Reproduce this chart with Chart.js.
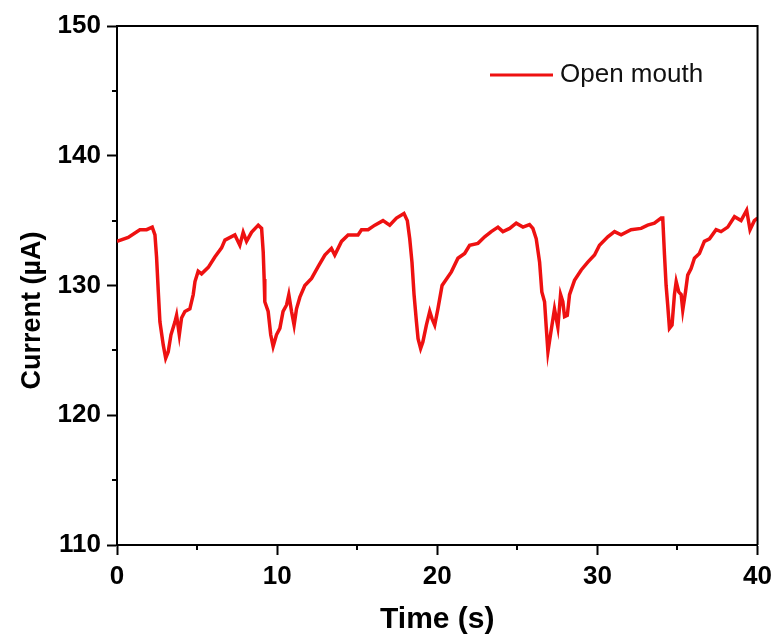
<!DOCTYPE html>
<html>
<head>
<meta charset="utf-8">
<script src="https://cdn.jsdelivr.net/npm/chart.js@4/dist/chart.umd.min.js"></script>
<style>
  html, body { margin: 0; padding: 0; background: #fff; }
  #wrap { width: 778px; height: 641px; }
</style>
</head>
<body>
<div id="wrap"><canvas id="c" width="778" height="641"></canvas></div>
<script>
const seriesLabel = 'Open mouth';
const timeS = [0.0,0.7,1.43,1.85,2.2,2.37,2.47,2.58,2.68,2.89,3.04,3.2,3.37,3.62,3.72,3.89,4.03,4.24,4.55,4.76,4.87,5.07,5.28,5.7,6.11,6.53,6.74,7.36,7.67,7.88,8.09,8.4,8.82,9.03,9.13,9.19,9.23,9.44,9.6,9.75,9.96,10.17,10.37,10.59,10.73,10.9,11.06,11.21,11.42,11.73,12.15,12.56,12.98,13.39,13.6,14.02,14.43,15.05,15.27,15.68,16.1,16.61,17.03,17.45,17.92,18.13,18.28,18.42,18.55,18.7,18.8,18.96,19.1,19.32,19.53,19.67,19.84,20.04,20.3,20.88,21.29,21.71,22.02,22.54,22.96,23.37,23.79,24.1,24.52,24.93,25.35,25.76,25.97,26.18,26.39,26.53,26.7,26.81,26.91,27.07,27.32,27.53,27.7,27.84,27.95,28.12,28.26,28.57,28.99,29.4,29.82,30.13,30.65,31.07,31.48,32.1,32.73,33.14,33.56,33.98,34.08,34.19,34.29,34.39,34.5,34.66,34.81,34.92,35.08,35.23,35.33,35.5,35.64,35.85,36.06,36.37,36.68,37.0,37.41,37.72,38.14,38.56,38.97,39.32,39.53,39.8,40.0];
const currentUA = [133.4,133.7,134.3,134.3,134.5,133.9,132.2,129.5,127.2,125.4,124.4,124.9,126.2,127.2,127.7,126.2,127.5,128.0,128.2,129.3,130.3,131.1,130.9,131.4,132.2,132.9,133.5,133.9,133.1,134.1,133.4,134.1,134.65,134.4,132.6,130.5,128.75,128.0,126.2,125.3,126.2,126.7,128.0,128.5,129.3,128.0,126.95,128.2,129.1,130.0,130.55,131.45,132.35,132.86,132.35,133.4,133.9,133.9,134.3,134.3,134.65,135.0,134.65,135.2,135.55,135.0,133.6,131.8,129.3,127.2,125.9,125.15,125.65,126.95,128.0,127.45,126.95,128.2,130.0,131.05,132.1,132.47,133.1,133.25,133.75,134.15,134.5,134.15,134.4,134.8,134.5,134.7,134.4,133.6,131.8,129.5,128.75,126.7,124.9,126.2,128.2,126.8,129.3,128.75,127.6,127.7,129.3,130.4,131.2,131.8,132.35,133.1,133.75,134.15,133.9,134.3,134.4,134.65,134.8,135.2,135.2,132.35,130.0,128.5,126.7,126.95,129.3,130.3,129.5,129.3,128.1,129.5,130.8,131.3,132.1,132.47,133.4,133.6,134.3,134.15,134.5,135.3,135.0,135.8,134.3,135.0,135.2];
const xTicks = [0, 10, 20, 30, 40];
const yTicks = [110, 120, 130, 140, 150];
const xMinorTicks = [5, 15, 25, 35];
const yMinorTicks = [115, 125, 135, 145];
const xTitle = 'Time (s)';
const yTitle = 'Current (µA)';

const lineColor = '#ee1111';
const FONT = "'Liberation Sans', Arial, sans-serif";

const points = timeS.map((t, i) => ({ x: t, y: currentUA[i] }));

const framePlugin = {
  id: 'frame',
  afterDraw(chart) {
    const { ctx, chartArea: a, scales } = chart;
    ctx.save();
    ctx.strokeStyle = '#000';
    ctx.lineWidth = 2;
    ctx.beginPath();
    ctx.moveTo(a.left, a.top);
    ctx.lineTo(a.right, a.top);
    ctx.lineTo(a.right, a.bottom);
    ctx.stroke();
    // minor ticks
    ctx.beginPath();
    xMinorTicks.forEach(v => {
      const px = Math.round(scales.x.getPixelForValue(v));
      ctx.moveTo(px, a.bottom);
      ctx.lineTo(px, a.bottom + 5);
    });
    yMinorTicks.forEach(v => {
      const py = Math.round(scales.y.getPixelForValue(v));
      ctx.moveTo(a.left - 5, py);
      ctx.lineTo(a.left, py);
    });
    ctx.stroke();
    // y axis title (offset below centre as in the reference)
    ctx.save();
    ctx.translate(33, a.top + (a.bottom - a.top) * 0.548);
    ctx.rotate(-Math.PI / 2);
    ctx.fillStyle = '#000';
    ctx.font = 'bold 27px ' + FONT;
    ctx.textAlign = 'center';
    ctx.textBaseline = 'middle';
    ctx.fillText(yTitle, 0, 0);
    ctx.restore();
    // legend
    const ds = chart.data.datasets[0];
    const ly = a.top + 49;
    ctx.strokeStyle = ds.borderColor;
    ctx.lineWidth = 3;
    ctx.beginPath();
    ctx.moveTo(a.left + 373, ly);
    ctx.lineTo(a.left + 436, ly);
    ctx.stroke();
    ctx.fillStyle = '#111';
    ctx.font = '26px ' + FONT;
    ctx.textBaseline = 'middle';
    ctx.textAlign = 'left';
    ctx.fillText(ds.label, a.left + 443, ly);
    ctx.restore();
  }
};

new Chart(document.getElementById('c'), {
  type: 'line',
  data: {
    datasets: [{
      label: seriesLabel,
      data: points,
      borderColor: lineColor,
      backgroundColor: lineColor,
      borderWidth: 3.5,
      pointRadius: 0,
      tension: 0,
      fill: false
    }]
  },
  options: {
    responsive: false,
    animation: false,
    devicePixelRatio: 1,
    layout: { padding: { left: 0, top: 26, right: 20, bottom: 0 } },
    plugins: {
      legend: { display: false },
      tooltip: { enabled: false }
    },
    scales: {
      x: {
        type: 'linear',
        min: 0, max: 40,
        afterBuildTicks(scale) { scale.ticks = xTicks.map(v => ({ value: v })); },
        afterFit(scale) { scale.height = 96; },
        ticks: {
          autoSkip: false,
          maxRotation: 0,
          padding: 6,
          color: '#000',
          font: { family: FONT, size: 26, weight: 'bold' }
        },
        grid: {
          drawOnChartArea: false,
          drawTicks: true,
          tickLength: 10,
          tickWidth: 2,
          tickColor: '#000'
        },
        border: { display: true, color: '#000', width: 2 },
        title: {
          display: true,
          text: xTitle,
          color: '#000',
          font: { family: FONT, size: 30, weight: 'bold' },
          padding: { top: 0, bottom: 3 }
        }
      },
      y: {
        type: 'linear',
        min: 110, max: 150,
        afterBuildTicks(scale) { scale.ticks = yTicks.map(v => ({ value: v })); },
        afterFit(scale) { scale.width = 117; },
        ticks: {
          autoSkip: false,
          padding: 6,
          color: '#000',
          font: { family: FONT, size: 26, weight: 'bold' }
        },
        grid: {
          drawOnChartArea: false,
          drawTicks: true,
          tickLength: 10,
          tickWidth: 2,
          tickColor: '#000'
        },
        border: { display: true, color: '#000', width: 2 },
        title: { display: false }
      }
    }
  },
  plugins: [framePlugin]
});
</script>
</body>
</html>
